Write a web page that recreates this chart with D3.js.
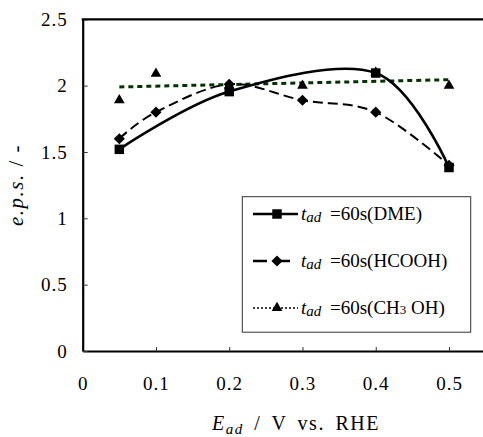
<!DOCTYPE html>
<html>
<head>
<meta charset="utf-8">
<script src="https://cdn.jsdelivr.net/npm/d3@7"></script>
</head>
<body style="margin:0;background:#fff">
<svg id="chart" width="483" height="437"></svg>
<script>
const xTicks = [0, 0.1, 0.2, 0.3, 0.4, 0.5];
const yTicks = [0, 0.5, 1, 1.5, 2, 2.5];

// e.p.s. vs adsorption potential, t_ad = 60 s
const dmeE = [0.05, 0.2, 0.4, 0.5];
const dmeEps = [1.52, 1.955, 2.095, 1.383];
const hcoohE = [0.05, 0.1, 0.2, 0.3, 0.4, 0.5];
const hcoohEps = [1.60, 1.80, 2.01, 1.89, 1.80, 1.40];
const ch3ohE = [0.05, 0.1, 0.2, 0.3, 0.4, 0.5];
const ch3ohEps = [1.89, 2.09, 2.0, 2.0, 2.1, 2.0];
// linear trend line drawn for CH3OH
const trendE = [0.05, 0.5];
const trendEps = [1.99, 2.045];

const legendNames = ["DME", "HCOOH", "CH3OH"];

(() => {
    const svg = d3.select("#chart");
    const mLeft = 82.7, mTop = 19.3, mBottom = 351;
    const serif = "Liberation Serif";

    const x = d3.scaleLinear().domain([0, 0.55]).range([mLeft, mLeft + 0.55 * 732.6]);
    const y = d3.scaleLinear().domain([0, 2.5]).range([mBottom, mTop]);

    // axes
    const xAxis = svg.append("g")
        .attr("transform", `translate(0,${mBottom})`)
        .call(d3.axisBottom(x).tickValues(xTicks).tickFormat(d => d).tickSizeInner(-4).tickSizeOuter(0));
    xAxis.selectAll("text")
        .attr("y", 39).attr("dy", 0)
        .attr("font-family", serif).attr("font-size", 19).attr("letter-spacing", 1);

    const yAxis = svg.append("g")
        .attr("transform", `translate(${mLeft},0)`)
        .call(d3.axisLeft(y).tickValues(yTicks).tickFormat(d => d).tickSizeInner(-5).tickSizeOuter(0).tickPadding(15));
    yAxis.selectAll("text")
        .attr("font-family", serif).attr("font-size", 19).attr("letter-spacing", 1);

    svg.selectAll(".domain").attr("stroke", "#000").attr("stroke-width", 2.2);
    svg.selectAll(".tick line").attr("stroke", "#333").attr("stroke-width", 1);

    svg.append("line")
        .attr("x1", mLeft - 1).attr("x2", x(0.55))
        .attr("y1", mTop).attr("y2", mTop)
        .attr("stroke", "#000").attr("stroke-width", 2.2);

    // lines
    const smooth = d3.line().x(d => x(d[0])).y(d => y(d[1])).curve(d3.curveCardinal);
    const straight = d3.line().x(d => x(d[0])).y(d => y(d[1]));

    svg.append("path")
        .datum(d3.zip(trendE, trendEps))
        .attr("d", straight)
        .attr("fill", "none").attr("stroke", "#003300").attr("stroke-width", 3)
        .attr("stroke-dasharray", "5,4");

    svg.append("path")
        .datum(d3.zip(hcoohE, hcoohEps))
        .attr("d", smooth)
        .attr("fill", "none").attr("stroke", "#000").attr("stroke-width", 2)
        .attr("stroke-dasharray", "10,5");

    svg.append("path")
        .datum(d3.zip(dmeE, dmeEps))
        .attr("d", smooth)
        .attr("fill", "none").attr("stroke", "#000").attr("stroke-width", 2.6);

    // markers
    const tri = d3.symbol(d3.symbolTriangle, 50)();
    const sq = d3.symbol(d3.symbolSquare, 90)();
    const dia = d3.symbol(d3.symbolSquare, 62)();

    svg.selectAll(".tri").data(d3.zip(ch3ohE, ch3ohEps)).enter().append("path")
        .attr("d", tri)
        .attr("transform", d => `translate(${x(d[0])},${y(d[1])})`);

    svg.selectAll(".dia").data(d3.zip(hcoohE, hcoohEps)).enter().append("path")
        .attr("d", dia)
        .attr("transform", d => `translate(${x(d[0])},${y(d[1])}) rotate(45)`);

    svg.selectAll(".sq").data(d3.zip(dmeE, dmeEps)).enter().append("path")
        .attr("d", sq)
        .attr("transform", d => `translate(${x(d[0])},${y(d[1])})`);

    // legend
    const legend = svg.append("g");
    legend.append("rect")
        .attr("x", 242.3).attr("y", 196.7).attr("width", 228.4).attr("height", 135.5)
        .attr("fill", "#fff").attr("stroke", "#333").attr("stroke-width", 1);

    const rowY = [214, 261, 308];
    const sampleStyle = [
        { dash: null, width: 2.6, mark: sq, rot: 0 },
        { dash: "14,9", width: 2.6, mark: dia, rot: 45 },
        { dash: "2,2", width: 1.5, mark: tri, rot: 0 }
    ];

    legendNames.forEach((name, i) => {
        const row = legend.append("g").attr("transform", `translate(0,${rowY[i]})`);
        const s = sampleStyle[i];
        row.append("line")
            .attr("x1", 253).attr("x2", 298)
            .attr("stroke", "#000").attr("stroke-width", s.width)
            .attr("stroke-dasharray", s.dash);
        row.append("path")
            .attr("d", s.mark)
            .attr("transform", `translate(277,0) rotate(${s.rot})`);

        const t = row.append("text").attr("y", 6)
            .attr("font-family", serif).attr("font-size", 19);
        t.append("tspan").attr("x", 301).attr("font-style", "italic").text("t");
        t.append("tspan").attr("dy", 2).attr("font-style", "italic").attr("font-size", 15).text("ad");
        const rest = t.append("tspan").attr("x", 330).attr("dy", -2);
        if (name === "CH3OH") {
            rest.text("=60s(CH");
            t.append("tspan").attr("font-size", 13).text("3");
            t.append("tspan").text(" OH)");
        } else {
            rest.text(`=60s(${name})`);
        }
    });

    // axis titles
    const xt = svg.append("text")
        .attr("x", 296).attr("y", 430)
        .attr("text-anchor", "middle")
        .attr("font-family", serif)
        .attr("font-size", 20)
        .attr("letter-spacing", 1.5);
    xt.append("tspan").attr("font-style", "italic").text("E");
    xt.append("tspan").attr("dy", 4).attr("font-style", "italic").attr("font-size", 15).text("ad");
    xt.append("tspan").attr("dy", -4).attr("word-spacing", 4).text(" / V vs. RHE");

    const yt = svg.append("text")
        .attr("transform", "translate(23,185) rotate(-90)")
        .attr("text-anchor", "middle")
        .attr("font-family", serif)
        .attr("font-size", 21)
        .attr("letter-spacing", 1.5);
    yt.append("tspan").attr("font-style", "italic").text("e.p.s.");
    yt.append("tspan").text(" / -");
})();
</script>
</body>
</html>
